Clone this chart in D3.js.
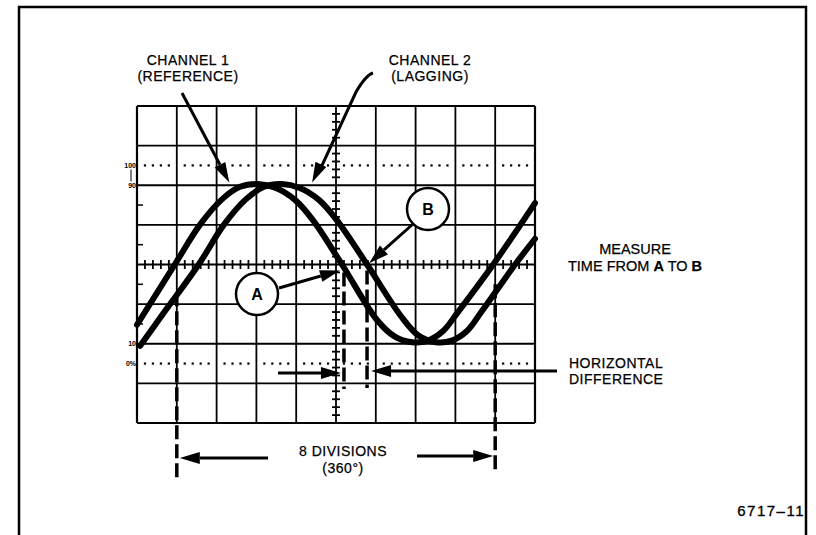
<!DOCTYPE html>
<html>
<head>
<meta charset="utf-8">
<script src="https://cdn.jsdelivr.net/npm/d3@7"></script>
<style>
  body { margin: 0; background: #fff; }
  svg { display: block; font-family: "Liberation Sans", Arial, sans-serif; }
  svg text { fill: #000; }
</style>
</head>
<body>
<div id="chart"></div>
<script>
// graticule: 10 x 8 divisions, values in divisions from centre
const xDivisions = d3.range(0, 11);
const yDivisions = d3.range(-4, 5);
const levelMarks = [
  { label: '100', level: 2.5, dotted: true },
  { label: '90', level: 2, dotted: false },
  { label: '10', level: -2, dotted: false },
  { label: '0%', level: -2.5, dotted: true }
];

// traces, [division x, division y]
const channel1 = [
  [0.00, -1.52], [0.95, 0], [1.58, 1.0], [2.14, 1.65], [2.59, 1.96], [3.04, 2.03],
  [3.49, 1.93], [3.97, 1.63], [4.42, 1.12], [5.15, 0], [6.03, -1.40], [6.48, -1.82],
  [6.91, -1.96], [7.31, -1.92], [7.69, -1.68], [8.05, -1.22], [8.95, 0], [10.0, 1.55]
];
const channel2 = [
  [0.08, -2.05], [0.65, -1.25], [1.55, 0], [2.18, 1.0], [2.74, 1.65], [3.19, 1.96],
  [3.64, 2.03], [4.09, 1.93], [4.57, 1.63], [5.02, 1.12], [5.78, 0], [6.63, -1.30],
  [7.08, -1.80], [7.51, -1.96], [7.91, -1.92], [8.29, -1.68], [8.65, -1.20], [9.50, 0],
  [10.0, 0.65]
];

// measurement points (divisions)
const periodStart = 1.0;
const periodEnd = 9.0;
const pointA = 5.2;
const pointB = 5.78;

const labels = {
  ch1: ['CHANNEL 1', '(REFERENCE)'],
  ch2: ['CHANNEL 2', '(LAGGING)'],
  measure: ['MEASURE', 'TIME FROM ', 'A', ' TO ', 'B'],
  diff: ['HORIZONTAL', 'DIFFERENCE'],
  period: ['8 DIVISIONS', '(360°)'],
  figure: '6717–11'
};

const config = {
  width: 816,
  height: 535,
  grid: { left: 137, right: 535, top: 106, bottom: 423 }
};

const svg = d3.select('#chart').append('svg')
  .attr('width', config.width)
  .attr('height', config.height);

const x = d3.scaleLinear().domain([0, 10]).range([config.grid.left, config.grid.right]);
const y = d3.scaleLinear().domain([-4, 4]).range([config.grid.bottom, config.grid.top]);

// outer frame (open at bottom)
svg.append('path')
  .attr('d', 'M19,535 V7 H806 V535')
  .attr('fill', 'none').attr('stroke', '#000').attr('stroke-width', 2.5);

// graticule
const grid = svg.append('g');
grid.selectAll('.vl').data(xDivisions).enter().append('line')
  .attr('x1', d => x(d)).attr('x2', d => x(d))
  .attr('y1', y(-4)).attr('y2', y(4))
  .attr('stroke', '#000').attr('stroke-width', d => (d === 0 || d === 10) ? 2.2 : 1.8);
grid.selectAll('.hl').data(yDivisions).enter().append('line')
  .attr('y1', d => y(d)).attr('y2', d => y(d))
  .attr('x1', x(0)).attr('x2', x(10))
  .attr('stroke', '#000').attr('stroke-width', d => (d === -4 || d === 4) ? 2.2 : 1.8);

// minor ticks on the centre lines
const minorX = d3.range(0, 50).map(i => i / 5).filter(d => d % 1 !== 0);
const minorY = d3.range(-20, 20).map(i => i / 5).filter(d => d % 1 !== 0);
grid.selectAll('.tx').data(minorX).enter().append('line')
  .attr('x1', d => x(d)).attr('x2', d => x(d))
  .attr('y1', y(0) - 4.5).attr('y2', y(0) + 4.5)
  .attr('stroke', '#000').attr('stroke-width', 1.8);
grid.selectAll('.ty').data(minorY).enter().append('line')
  .attr('y1', d => y(d)).attr('y2', d => y(d))
  .attr('x1', x(5) - 4).attr('x2', x(5) + 4)
  .attr('stroke', '#000').attr('stroke-width', 1.8);

// half-division ticks on left edge
grid.selectAll('.lt').data([-1.5, -0.5, 0.5, 1.5]).enter().append('line')
  .attr('y1', d => y(d)).attr('y2', d => y(d))
  .attr('x1', x(0)).attr('x2', x(0) + 6)
  .attr('stroke', '#000').attr('stroke-width', 1.5);

// dotted 0% / 100% lines
const dotted = levelMarks.filter(d => d.dotted);
dotted.forEach(m => {
  grid.selectAll(null).data(minorX).enter().append('rect')
    .attr('x', d => x(d) - 1.1).attr('y', y(m.level) - 1.1)
    .attr('width', 2.2).attr('height', 2.2).attr('fill', '#000');
});

// level labels
svg.selectAll('.lvl').data(levelMarks).enter().append('text')
  .attr('x', x(0) - 1).attr('y', d => y(d.level) + 2.5)
  .attr('text-anchor', 'end')
  .attr('font-size', 7).attr('font-weight', 'bold')
  .text(d => d.label);
svg.append('line')
  .attr('x1', x(0) - 6).attr('x2', x(0) - 6)
  .attr('y1', y(2.5) + 4).attr('y2', y(2) - 4)
  .attr('stroke', '#000').attr('stroke-width', 1);

// traces
const line = d3.line()
  .x(d => x(d[0]))
  .y(d => y(d[1]))
  .curve(d3.curveCatmullRom.alpha(0.5));
[channel1, channel2].forEach(series => {
  svg.append('path')
    .attr('d', line(series))
    .attr('fill', 'none').attr('stroke', '#000')
    .attr('stroke-width', 6).attr('stroke-linecap', 'round');
});

// dashed markers
function dashed(xv, yTop, yBottom) {
  svg.append('line')
    .attr('x1', xv).attr('x2', xv)
    .attr('y1', yTop).attr('y2', yBottom)
    .attr('stroke', '#000').attr('stroke-width', 3.5)
    .attr('stroke-dasharray', '14,5');
}
dashed(x(periodStart), y(-0.7), 480);
dashed(x(periodEnd), y(-0.5), 474);
dashed(x(pointA), y(-0.2), 389);
dashed(x(pointB), y(-0.15), 388);

// arrows
function arrow(x1, y1, x2, y2, width) {
  const len = 20, half = 6;
  const a = Math.atan2(y2 - y1, x2 - x1);
  const bx = x2 - len * Math.cos(a), by = y2 - len * Math.sin(a);
  svg.append('line')
    .attr('x1', x1).attr('y1', y1).attr('x2', bx).attr('y2', by)
    .attr('stroke', '#000').attr('stroke-width', width || 3);
  const px = -Math.sin(a) * half, py = Math.cos(a) * half;
  svg.append('path')
    .attr('d', `M${x2},${y2} L${bx + px},${by + py} L${bx - px},${by - py} Z`)
    .attr('fill', '#000');
}

arrow(182, 93, x(2.32), y(2.07));
// channel 2 arrow with hooked tail
svg.append('path')
  .attr('d', `M373,73 Q366,75 356,92 L${x(4.4) + 9},${y(2.07) - 15}`)
  .attr('fill', 'none').attr('stroke', '#000').attr('stroke-width', 3);
arrow(356, 92, x(4.4), y(2.07), 0.1);

// circles A and B
const circles = [
  { name: 'A', cx: 257, cy: 294, tail: [279, 288], tip: [x(pointA) - 4, y(-0.15)] },
  { name: 'B', cx: 428, cy: 209, tail: [413, 224], tip: [x(pointB) + 2, y(0.03)] }
];
circles.forEach(c => {
  svg.append('circle')
    .attr('cx', c.cx).attr('cy', c.cy).attr('r', 21)
    .attr('fill', '#fff').attr('stroke', '#000').attr('stroke-width', 2.5);
  svg.append('text')
    .attr('x', c.cx).attr('y', c.cy + 5.5)
    .attr('text-anchor', 'middle').attr('font-size', 16).attr('font-weight', 'bold')
    .text(c.name);
  arrow(c.tail[0], c.tail[1], c.tip[0], c.tip[1]);
});

// horizontal difference arrows
arrow(278, 373, x(pointA) - 3, 373);
arrow(557, 371, x(pointB) + 4, 371);

// 8 divisions arrows
arrow(268, 458, x(periodStart) + 3, 458);
arrow(417, 456, x(periodEnd) - 2, 456);

// texts
function textBlock(lines, xp, baselines, anchor) {
  lines.forEach((t, i) => {
    svg.append('text')
      .attr('x', xp).attr('y', baselines[i])
      .attr('text-anchor', anchor).attr('font-size', 14)
      .attr('letter-spacing', 0.5)
      .attr('stroke', '#000').attr('stroke-width', 0.25)
      .text(t);
  });
}
textBlock(labels.ch1, 188, [64.5, 81], 'middle');
textBlock(labels.ch2, 430, [64.5, 81], 'middle');
textBlock(labels.diff, 569, [367.5, 384], 'start');
textBlock(labels.period, 343, [456, 472.5], 'middle');

svg.append('text')
  .attr('x', 635).attr('y', 254).attr('text-anchor', 'middle').attr('font-size', 14.5)
  .attr('stroke', '#000').attr('stroke-width', 0.25)
  .text(labels.measure[0]);
const m = svg.append('text')
  .attr('x', 635).attr('y', 271).attr('text-anchor', 'middle').attr('font-size', 14.5)
  .attr('stroke', '#000').attr('stroke-width', 0.25);
labels.measure.slice(1).forEach(t => {
  m.append('tspan')
    .attr('font-weight', (t === 'A' || t === 'B') ? 'bold' : 'normal')
    .text(t);
});

svg.append('text')
  .attr('x', 805).attr('y', 516).attr('text-anchor', 'end')
  .attr('font-size', 15).attr('letter-spacing', 1.5)
  .attr('stroke', '#000').attr('stroke-width', 0.3)
  .text(labels.figure);
</script>
</body>
</html>
